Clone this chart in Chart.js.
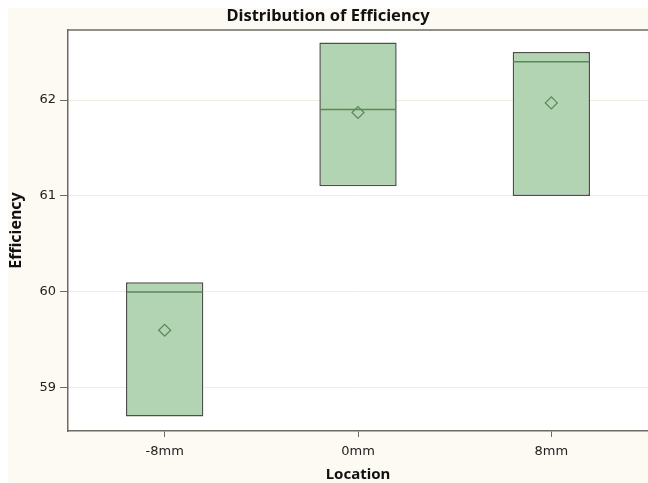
<!DOCTYPE html>
<html lang="en">
<head>
    <meta charset="UTF-8">
    <title>Distribution of Efficiency</title>
    <style>
        body {
            margin: 0;
            background: #ffffff;
        }
        .wrap {
            position: absolute;
            left: 8px;
            top: 8px;
            width: 640px;
            height: 475px;
            background: #fdfaf3;
        }
    </style>
    <script src="https://cdn.jsdelivr.net/npm/chart.js"></script>
</head>
<body>
    <div class="wrap">
        <canvas id="boxChart" width="640" height="475"></canvas>
    </div>

    <script>
        // data
        var locations = ['-8mm', '0mm', '8mm'];
        var q1 = [58.7, 61.1, 61.0];
        var q3 = [60.1, 62.6, 62.5];
        var medians = [60.0, 61.9, 62.4];
        var means = [59.6, 61.87, 61.97];

        var boxes = locations.map(function (loc, i) { return [q1[i], q3[i]]; });

        // white plot area + top border line
        var plotBg = {
            id: 'plotBg',
            beforeDraw: function (chart) {
                var a = chart.chartArea, ctx = chart.ctx;
                ctx.save();
                ctx.fillStyle = '#ffffff';
                ctx.fillRect(a.left, a.top, a.right - a.left, a.bottom - a.top);
                ctx.restore();
            },
            afterDraw: function (chart) {
                var a = chart.chartArea, ctx = chart.ctx;
                ctx.save();
                ctx.strokeStyle = '#6b6b63';
                ctx.lineWidth = 1.5;
                ctx.beginPath();
                ctx.moveTo(a.left, a.top);
                ctx.lineTo(a.right, a.top);
                ctx.stroke();
                ctx.restore();
            }
        };

        var ctx = document.getElementById('boxChart').getContext('2d');
        var chart = new Chart(ctx, {
            type: 'bar',
            data: {
                labels: locations,
                datasets: [{
                    type: 'line',
                    label: 'Mean',
                    data: means,
                    showLine: false,
                    pointStyle: 'rectRot',
                    pointRadius: 6,
                    pointBorderWidth: 1.2,
                    pointBorderColor: '#5a885a',
                    pointBackgroundColor: 'rgba(0,0,0,0)',
                    order: 0
                }, {
                    type: 'line',
                    label: 'Median',
                    data: medians,
                    showLine: false,
                    pointStyle: 'line',
                    pointRadius: 38,
                    pointBorderWidth: 1.5,
                    pointBorderColor: '#5a885a',
                    order: 1
                }, {
                    label: 'Box',
                    data: boxes,
                    backgroundColor: '#b3d4b2',
                    borderColor: '#4f4f4a',
                    borderWidth: 1.5,
                    borderSkipped: false,
                    barPercentage: 0.4,
                    categoryPercentage: 1.0,
                    order: 2
                }]
            },
            options: {
                responsive: false,
                animation: false,
                events: [],
                layout: { autoPadding: false, padding: 0 },
                plugins: {
                    legend: { display: false },
                    tooltip: { enabled: false },
                    title: {
                        display: true,
                        text: 'Distribution of Efficiency',
                        color: '#111111',
                        font: { family: 'Noto Sans', size: 16.5, weight: 'bold', lineHeight: 1.0 },
                        padding: { top: 0, bottom: 5.5 }
                    }
                },
                scales: {
                    x: {
                        offset: true,
                        grid: {
                            offset: false,
                            drawOnChartArea: false,
                            tickLength: 6,
                            tickColor: '#6b6b63'
                        },
                        border: { color: '#6b6b63', width: 1.5 },
                        ticks: {
                            color: '#222222',
                            padding: 7,
                            font: { family: 'DejaVu Sans', size: 13 }
                        },
                        title: {
                            display: true,
                            text: 'Location',
                            color: '#111111',
                            font: { family: 'Noto Sans', size: 15, weight: 'bold', lineHeight: 1.1 },
                            padding: { top: 4, bottom: 0 }
                        },
                        afterFit: function (scale) { scale.height = 52; }
                    },
                    y: {
                        min: 58.55,
                        max: 62.73,
                        grid: {
                            color: '#efece0',
                            tickLength: 8,
                            tickColor: '#6b6b63'
                        },
                        border: { color: '#6b6b63', width: 1.5 },
                        ticks: {
                            stepSize: 1,
                            includeBounds: false,
                            color: '#222222',
                            padding: 4,
                            font: { family: 'DejaVu Sans', size: 13 }
                        },
                        title: {
                            display: true,
                            text: 'Efficiency',
                            color: '#111111',
                            font: { family: 'Noto Sans', size: 16, weight: 'bold', lineHeight: 1.1 },
                            padding: { top: 0, bottom: 4 }
                        },
                        afterFit: function (scale) { scale.width = 60; }
                    }
                }
            },
            plugins: [plotBg]
        });
    </script>
</body>
</html>
